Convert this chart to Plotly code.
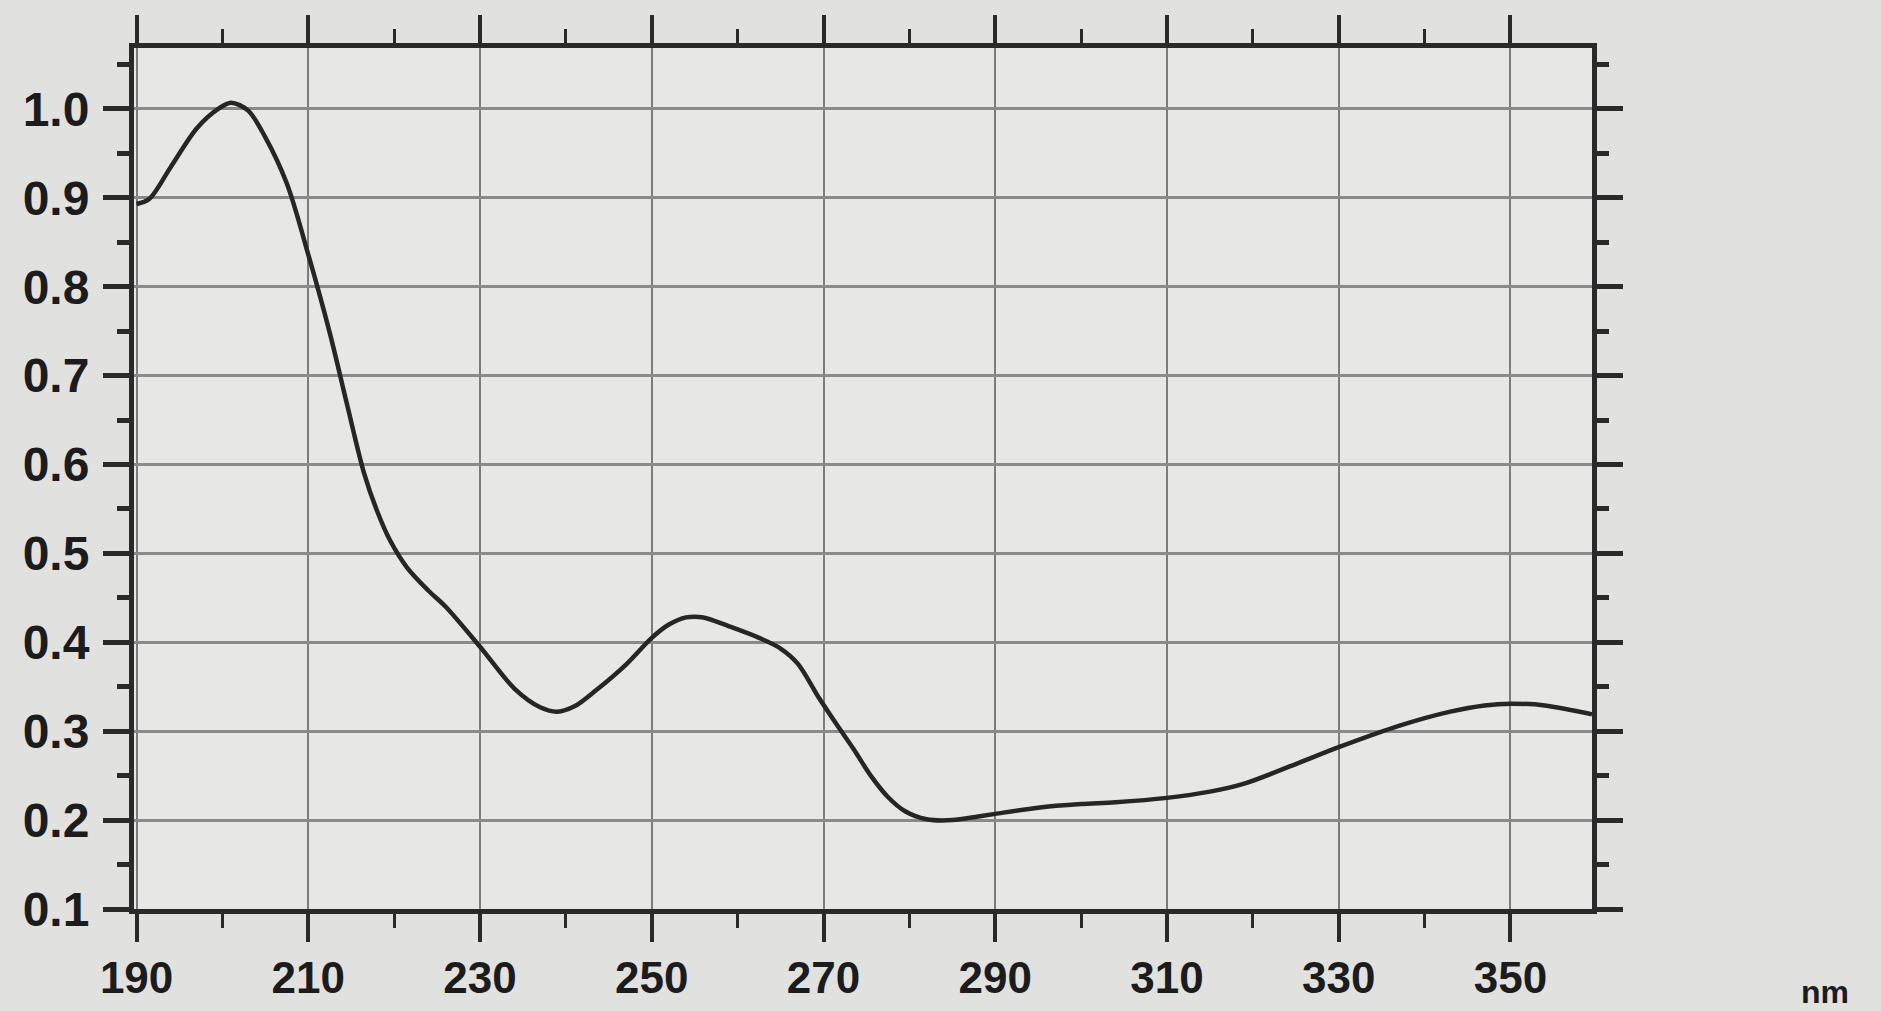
import plotly.graph_objects as go

# Wavelength (nm) and absorbance
wavelength = [190.0, 191.5, 194, 197, 199.5, 201, 203, 205, 207.5, 210, 212.5, 214.5,
              216.5, 218, 219.5, 221.5, 224, 226, 230, 234, 237, 239, 241, 243.5,
              247, 250, 252, 254, 256, 259, 262.5, 265, 267, 269.5, 271.5, 273.5, 275.5,
              277.5, 279.5, 282, 285, 288, 290, 295, 300, 304, 310, 315, 319, 325, 330,
              337, 343, 347, 350, 354, 359.5]
absorbance = [0.893, 0.899, 0.935, 0.978, 1.000, 1.007, 0.998, 0.968, 0.916, 0.836, 0.748, 0.668,
              0.590, 0.548, 0.515, 0.484, 0.458, 0.440, 0.395, 0.348, 0.327, 0.322, 0.328, 0.346,
              0.375, 0.405, 0.420, 0.428, 0.428, 0.418, 0.405, 0.393, 0.376, 0.337, 0.308, 0.280, 0.250,
              0.226, 0.210, 0.201, 0.200, 0.204, 0.207, 0.214, 0.218, 0.220, 0.225, 0.232, 0.241, 0.263, 0.282,
              0.306, 0.322, 0.329, 0.331, 0.329, 0.319]

x_ticks = [190, 210, 230, 250, 270, 290, 310, 330, 350]
y_ticks = [0.1, 0.2, 0.3, 0.4, 0.5, 0.6, 0.7, 0.8, 0.9, 1.0]
x_unit = "nm"

W, H = 1881, 1011
L, R, T, B = 134, 1592, 48, 909

fig = go.Figure()
fig.add_trace(go.Scatter(
    x=wavelength, y=absorbance, mode="lines",
    line=dict(color="#262626", width=4.5, shape="spline", smoothing=0.9),
    showlegend=False, hoverinfo="skip"))

xfont = dict(family="Liberation Sans, Arial, sans-serif", size=44, color="#1c1c1c", weight="bold")
yfont = dict(family="Liberation Sans, Arial, sans-serif", size=48, color="#1c1c1c", weight="bold")
axis_color = "#2a2a2a"

fig.update_xaxes(
    range=[189.7, 359.5], tickmode="array", tickvals=x_ticks,
    ticktext=[str(v) for v in x_ticks], automargin=False,
    showgrid=True, gridcolor="#7c7c7c", gridwidth=1.6,
    showline=True, linecolor=axis_color, linewidth=5, mirror="ticks",
    ticks="outside", ticklen=28, tickwidth=4, tickcolor=axis_color,
    minor=dict(tickmode="array", tickvals=[200, 220, 240, 260, 280, 300, 320, 340],
               ticks="outside", ticklen=14, tickwidth=3, tickcolor=axis_color, showgrid=False),
    tickfont=xfont, ticklabelstandoff=-2, zeroline=False)

fig.update_yaxes(
    range=[0.1, 1.0685], tickmode="array", tickvals=y_ticks,
    ticktext=[f"{v:.1f}" for v in y_ticks], automargin=False,
    showgrid=True, gridcolor="#8a8a8a", gridwidth=3,
    showline=True, linecolor=axis_color, linewidth=5, mirror="ticks",
    ticks="outside", ticklen=26, tickwidth=5, tickcolor=axis_color,
    minor=dict(tickmode="array", tickvals=[0.15, 0.25, 0.35, 0.45, 0.55, 0.65, 0.75, 0.85, 0.95, 1.05],
               ticks="outside", ticklen=12, tickwidth=5, tickcolor=axis_color, showgrid=False),
    tickfont=yfont, ticklabelstandoff=4, zeroline=False)

fig.add_annotation(
    text=x_unit, xref="paper", yref="paper",
    x=(1825 - L) / (R - L), y=(B - 992) / (B - T),
    showarrow=False, xanchor="center", yanchor="middle",
    font=dict(family="Liberation Sans, Arial, sans-serif", size=32, color="#1c1c1c", weight="bold"))

fig.update_layout(
    width=W, height=H,
    margin=dict(l=L, r=W - R, t=T, b=H - B, pad=0, autoexpand=False),
    paper_bgcolor="#e1e2e0", plot_bgcolor="#e7e8e6",
    showlegend=False)

fig.write_html("out.html", config={"displayModeBar": False},
               post_script="document.body.style.margin='0';document.body.style.background='#e1e2e0';")
